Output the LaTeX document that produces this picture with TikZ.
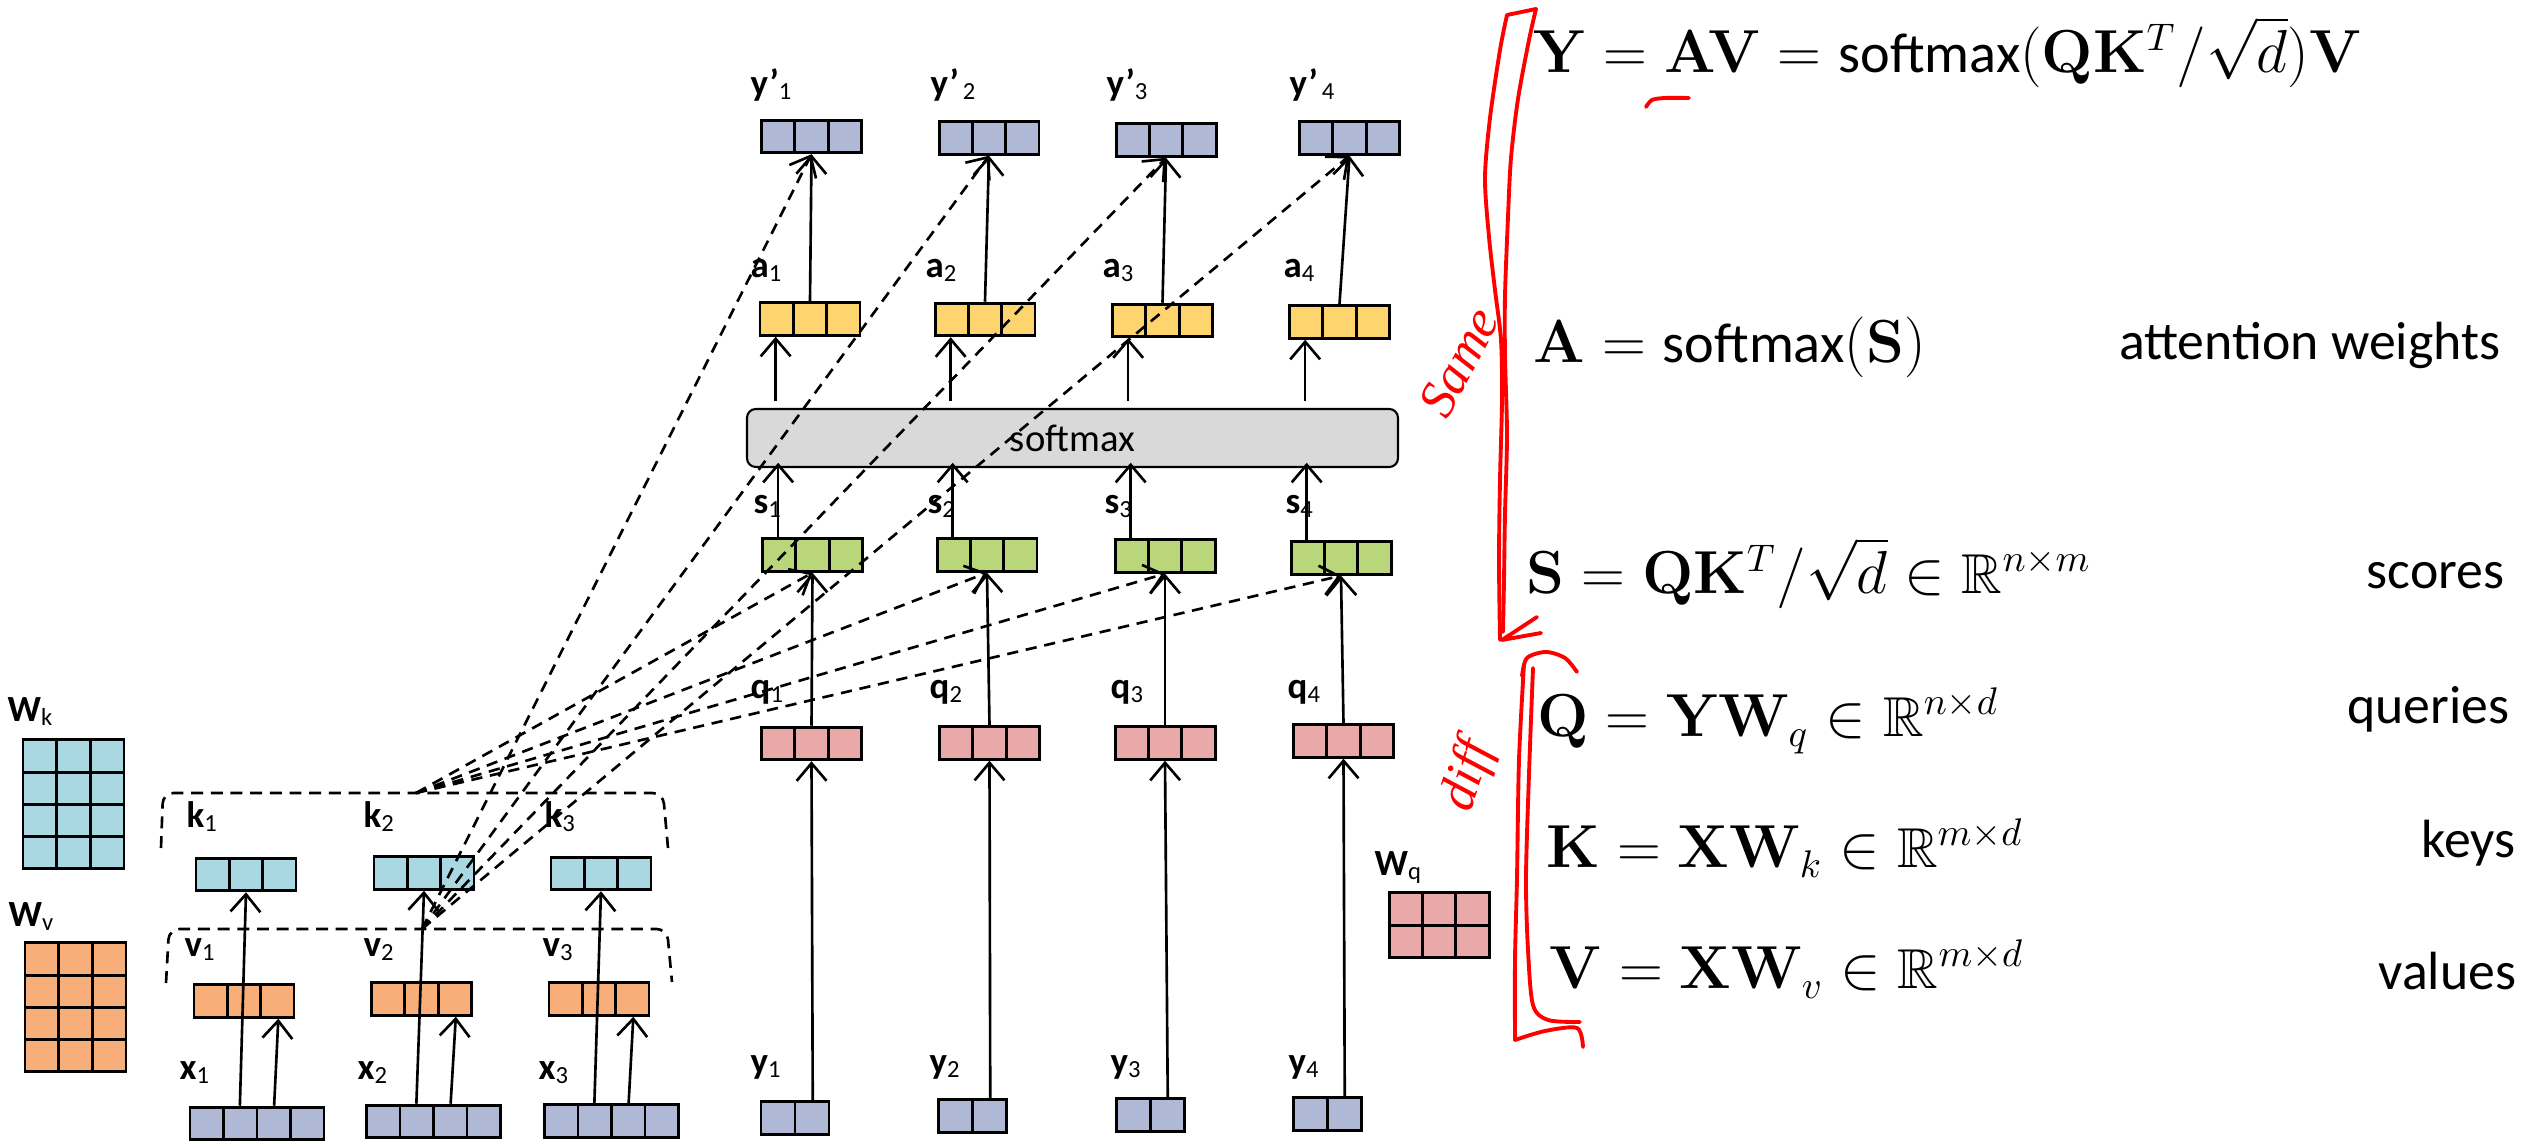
\documentclass[tikz,border=0pt]{standalone}
\usepackage{amsmath,amssymb}
\usepackage[no-math]{fontspec}
\setmainfont{Carlito}
\newfontfamily\handfont{Liberation Serif}
\usetikzlibrary{calc,arrows.meta}
\definecolor{cLav}{HTML}{AFB9D6}
\definecolor{cYel}{HTML}{FDD46E}
\definecolor{cGrn}{HTML}{B9D77A}
\definecolor{cPnk}{HTML}{E9A9A9}
\definecolor{cBlu}{HTML}{A9D8E2}
\definecolor{cOrg}{HTML}{F8AE78}
\definecolor{cGry}{HTML}{D9D9D9}
\newcommand\vlab[2]{{\bfseries #1}{\fontsize{7}{8}\selectfont\raisebox{-0.3ex}{#2}}}
\tikzset{
  vbox/.style={draw=black, line width=0.85pt, inner sep=0pt, minimum height=3.25mm},
  colcells/.style={path picture={
     \pgfmathtruncatemacro\nm{#1-1}
     \foreach \k in {1,...,\nm}{
       \draw[line width=0.85pt] ($(path picture bounding box.north west)!\k/#1!(path picture bounding box.north east)$) -- ($(path picture bounding box.south west)!\k/#1!(path picture bounding box.south east)$);
     }}},
  vec2/.style={vbox, fill=#1, minimum width=6.8mm, colcells=2},
  vec3/.style={vbox, fill=#1, minimum width=10mm, colcells=3},
  vec4/.style={vbox, fill=#1, minimum width=13.4mm, colcells=4},
  mat/.style n args={3}{vbox, fill=#1, path picture={
     \pgfmathtruncatemacro\nc{#2-1}
     \pgfmathtruncatemacro\nr{#3-1}
     \foreach \k in {1,...,\nc}{
       \draw[line width=0.85pt] ($(path picture bounding box.north west)!\k/#2!(path picture bounding box.north east)$) -- ($(path picture bounding box.south west)!\k/#2!(path picture bounding box.south east)$);}
     \foreach \k in {1,...,\nr}{
       \draw[line width=0.85pt] ($(path picture bounding box.north west)!\k/#3!(path picture bounding box.south west)$) -- ($(path picture bounding box.north east)!\k/#3!(path picture bounding box.south east)$);}
     }},
  smx/.style={draw=black, line width=0.6pt, fill=cGry, rounded corners=2.5pt, minimum width=65.1mm, minimum height=5.8mm, inner sep=0pt, font=\fontsize{11}{13}\selectfont},
  lab/.style={anchor=base west, inner sep=0pt, font=\fontsize{10.5}{12}\selectfont},
  eqn/.style={anchor=base west, inner sep=0pt, font=\fontsize{16}{19}\selectfont},
  word/.style={anchor=base east, inner sep=0pt, font=\fontsize{15.3}{18}\selectfont},
  arr/.style={line width=0.75pt, -{Straight Barb[length=5pt,width=8.5pt,line width=0.75pt]}},
  darr/.style={arr, dash pattern=on 3.2pt off 2.2pt},
  brk/.style={line width=0.75pt, dash pattern=on 3.4pt off 2.2pt, rounded corners=3pt},
  redink/.style={draw=red, line width=1.1pt, line cap=round, line join=round},
  redtxt/.style={text=red, inner sep=0pt, font=\handfont\itshape\fontsize{15}{16}\selectfont}
}
\begin{document}
\begin{tikzpicture}[x=0.1mm, y=-0.1mm]
\path[use as bounding box, fill=white] (0,0) rectangle (2522,1146);

% ---------- weight matrices ----------
\node[mat={cBlu}{3}{4}, minimum width=10.1mm, minimum height=12.9mm] (Wk) at (73.5,804.5) {};
\node[mat={cOrg}{3}{4}, minimum width=10.1mm, minimum height=12.9mm] (Wv) at (75.5,1007.5) {};
\node[mat={cPnk}{3}{2}, minimum width=10mm, minimum height=6.5mm] (Wq) at (1439,925.5) {};
\node[lab] (lWk) at (7,722) {\vlab{W}{k}};
\node[lab] (lWv) at (8,927) {\vlab{W}{v}};
\node[lab] (lWq) at (1374,876) {\vlab{W}{q}};

% ---------- brackets ----------
\draw[brk] (161,848) -- (163,793) -- (663,793) -- (668,848);
\draw[brk] (166,983) -- (169,929) -- (667,929) -- (672,982);
\coordinate (kgrp) at (416,793);
\coordinate (vgrp) at (422,929);

% ---------- x, v, k ----------
\node[vec4=cLav] (x1) at (257,1123.5) {};
\node[vec4=cLav] (x2) at (433.5,1121.5) {};
\node[vec4=cLav] (x3) at (611.5,1121) {};
\node[vec3=cOrg] (v1) at (244,1001) {};
\node[vec3=cOrg] (v2) at (421.5,999) {};
\node[vec3=cOrg] (v3) at (599,999) {};
\node[vec3=cBlu] (k1) at (246,874.5) {};
\node[vec3=cBlu] (k2) at (424,873) {};
\node[vec3=cBlu] (k3) at (601,873.5) {};
\node[lab] (lx1) at (179,1080) {\vlab{x}{1}};
\node[lab] (lx2) at (357,1080) {\vlab{x}{2}};
\node[lab] (lx3) at (538,1080) {\vlab{x}{3}};
\node[lab] (lv1) at (184,957) {\vlab{v}{1}};
\node[lab] (lv2) at (363,957) {\vlab{v}{2}};
\node[lab] (lv3) at (542,957) {\vlab{v}{3}};
\node[lab] (lk1) at (186,828) {\vlab{k}{1}};
\node[lab] (lk2) at (363,828) {\vlab{k}{2}};
\node[lab] (lk3) at (544,828) {\vlab{k}{3}};

% ---------- y, q, s, softmax, a, y' ----------
\node[vec2=cLav] (y1) at (795,1118) {};
\node[vec2=cLav] (y2) at (972.5,1116) {};
\node[vec2=cLav] (y3) at (1150,1115) {};
\node[vec2=cLav] (y4) at (1327,1114) {};
\node[vec3=cPnk] (q1) at (811.5,743.5) {};
\node[vec3=cPnk] (q2) at (989.5,743) {};
\node[vec3=cPnk] (q3) at (1165,743) {};
\node[vec3=cPnk] (q4) at (1343.5,741) {};
\node[vec3=cGrn] (s1) at (812.5,555) {};
\node[vec3=cGrn] (s2) at (987,555) {};
\node[vec3=cGrn] (s3) at (1165,556) {};
\node[vec3=cGrn] (s4) at (1341,558) {};
\node[smx] (sm) at (1072.5,438) {softmax};
\node[vec3=cYel] (a1) at (810,319) {};
\node[vec3=cYel] (a2) at (985,319.5) {};
\node[vec3=cYel] (a3) at (1162.5,320.5) {};
\node[vec3=cYel] (a4) at (1339.5,322) {};
\node[vec3=cLav] (yp1) at (811.5,136.5) {};
\node[vec3=cLav] (yp2) at (989,138) {};
\node[vec3=cLav] (yp3) at (1166,140) {};
\node[vec3=cLav] (yp4) at (1349.5,138) {};

\node[lab] (ly1) at (750,1074) {\vlab{y}{1}};
\node[lab] (ly2) at (929,1074) {\vlab{y}{2}};
\node[lab] (ly3) at (1110,1074) {\vlab{y}{3}};
\node[lab] (ly4) at (1288,1074) {\vlab{y}{4}};
\node[lab] (lq1) at (750,699) {\vlab{q}{1}};
\node[lab] (lq2) at (929,699) {\vlab{q}{2}};
\node[lab] (lq3) at (1110,699) {\vlab{q}{3}};
\node[lab] (lq4) at (1287,699) {\vlab{q}{4}};
\node[lab] (ls1) at (753,514) {\vlab{s}{1}};
\node[lab] (ls2) at (927,514) {\vlab{s}{2}};
\node[lab] (ls3) at (1104,514) {\vlab{s}{3}};
\node[lab] (ls4) at (1285,514) {\vlab{s}{4}};
\node[lab] (la1) at (750,278) {\vlab{a}{1}};
\node[lab] (la2) at (925,278) {\vlab{a}{2}};
\node[lab] (la3) at (1102,278) {\vlab{a}{3}};
\node[lab] (la4) at (1283,278) {\vlab{a}{4}};
\node[lab] (lyp1) at (750,96) {\vlab{y’}{1}};
\node[lab] (lyp2) at (930,96) {\vlab{y’}{\,2}};
\node[lab] (lyp3) at (1106,96) {\vlab{y’}{3}};
\node[lab] (lyp4) at (1289,96) {\vlab{y’}{\,4}};

% ---------- solid connectors ----------
\foreach \i in {1,2,3}{
  \draw[arr] ($(x\i.north west)!0.375!(x\i.north east)$) -- (k\i.south);
  \draw[arr] ($(x\i.north west)!0.625!(x\i.north east)$) -- ($(v\i.south west)!5/6!(v\i.south east)$);
}
\foreach \i in {1,2,3,4}{
  \draw[arr] ($(y\i.north west)!0.75!(y\i.north east)$) -- (q\i.south);
  \draw[arr] (q\i.north) -- (s\i.south);
  \coordinate (st\i) at ($(s\i.north west)!1/6!(s\i.north east)$);
  \draw[arr, shorten >=-1.5pt] (st\i) -- (st\i |- sm.south);
  \coordinate (ab\i) at ($(a\i.south west)!1/6!(a\i.south east)$);
  \draw[arr, shorten <=2pt] (ab\i |- sm.north) -- (ab\i);
  \draw[arr] (a\i.north) -- (yp\i.south);
}
% ---------- dashed connectors ----------
\foreach \i in {1,2,3,4}{
  \draw[darr] (kgrp) -- (s\i.south);
  \draw[darr] (vgrp) -- (yp\i.south);
}

% ---------- equations ----------
\node[eqn] (eY) at (1533,73) {$\mathbf{Y}=\mathbf{A}\mathbf{V}=\text{softmax}(\mathbf{Q}\mathbf{K}^T/\sqrt{d})\mathbf{V}$};
\node[eqn] (eA) at (1533,363) {$\mathbf{A}=\text{softmax}(\mathbf{S})$};
\node[eqn] (eS) at (1526,594) {$\mathbf{S}=\mathbf{Q}\mathbf{K}^T/\sqrt{d}\in\mathbb{R}^{n\times m}$};
\node[eqn] (eQ) at (1537,737) {$\mathbf{Q}=\mathbf{Y}\mathbf{W}_q\in\mathbb{R}^{n\times d}$};
\node[eqn] (eK) at (1546,868) {$\mathbf{K}=\mathbf{X}\mathbf{W}_k\in\mathbb{R}^{m\times d}$};
\node[eqn] (eV) at (1549,989) {$\mathbf{V}=\mathbf{X}\mathbf{W}_v\in\mathbb{R}^{m\times d}$};
\node[word] (wA) at (2501,360) {attention weights};
\node[word] (wS) at (2505,589) {scores};
\node[word] (wQ) at (2510,724) {queries};
\node[word] (wK) at (2516,858) {keys};
\node[word] (wV) at (2517,990) {values};

% ---------- red annotations ----------
\draw[redink] plot[smooth] coordinates {(1500,640) (1499,560) (1500,480) (1502,400) (1501,340) (1495,290) (1489,237) (1485,178) (1490,118) (1500,50) (1507,15)};
\draw[redink] (1507,15) -- (1536,9);
\draw[redink] plot[smooth] coordinates {(1536,9) (1529,40) (1518,99) (1511,158) (1508,217) (1505,296) (1505,356) (1507,435) (1505,514) (1504,580) (1503,632)};
\draw[redink] (1537,617) -- (1502,640) -- (1541,633);
\draw[redink] plot[smooth] coordinates {(1646,107) (1652,100) (1665,98) (1689,98)};
\draw[redink] plot[smooth] coordinates {(1522,676) (1527,658) (1546,652) (1565,658) (1577,672)};
\draw[redink] plot[smooth] coordinates {(1524,664) (1519,760) (1517,878) (1515,960) (1515,1040)};
\draw[redink] plot[smooth] coordinates {(1533,668) (1529,774) (1526,878) (1528,950) (1533,1005) (1548,1020) (1580,1022)};
\draw[redink] plot[smooth] coordinates {(1515,1040) (1545,1031) (1577,1028) (1583,1047)};
\node[redtxt, rotate=62] (same) at (1459,362) {Same};
\node[redtxt, rotate=72] (diff) at (1469,776) {diff};
\end{tikzpicture}
\end{document}
